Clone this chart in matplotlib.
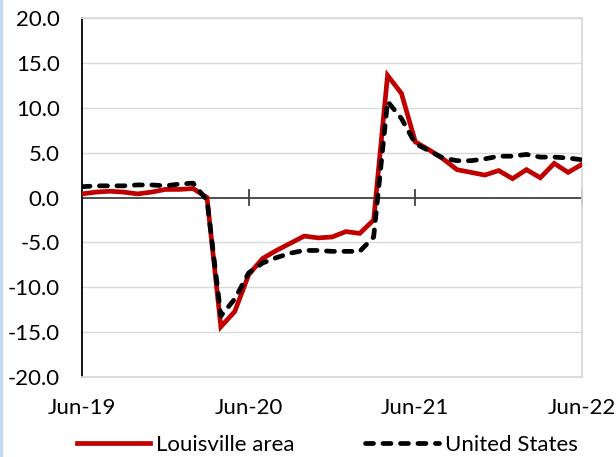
import matplotlib
matplotlib.use("Agg")
import matplotlib.pyplot as plt
from matplotlib.lines import Line2D
import numpy as np

plt.rcParams['font.family'] = ['Lato', 'DejaVu Sans']

months = list(range(37))  # Jun-19 .. Jun-22, monthly
louisville = [0.4, 0.6, 0.7, 0.6, 0.4, 0.6, 0.9, 0.9, 1.0, 0.0,
              -14.4, -12.7, -8.6, -6.8, -5.9, -5.1, -4.3, -4.5, -4.4, -3.8,
              -4.0, -2.5, 13.6, 11.6, 6.2, 5.3, 4.3, 3.1, 2.8, 2.5,
              3.0, 2.1, 3.1, 2.2, 3.8, 2.8, 3.7]
united_states = [1.2, 1.3, 1.3, 1.3, 1.4, 1.4, 1.3, 1.5, 1.6, -0.3,
                 -13.2, -11.3, -8.4, -7.3, -6.7, -6.2, -5.9, -5.9, -6.0, -6.0,
                 -6.0, -4.4, 10.7, 8.8, 6.0, 5.2, 4.4, 4.1, 4.1, 4.3,
                 4.6, 4.6, 4.8, 4.5, 4.5, 4.4, 4.2]
tick_pos = [0, 12, 24, 36]
tick_labels = ['Jun-19', 'Jun-20', 'Jun-21', 'Jun-22']
y_ticks = [-20, -15, -10, -5, 0, 5, 10, 15, 20]

FS = 16

fig = plt.figure(figsize=(6.16, 4.57), dpi=100)
ax = fig.add_axes([82/616, 1-377/457, 500/616, 359/457])

grid_c = '#d9d9d9'
for y in y_ticks:
    if y != 0:
        ax.axhline(y, color=grid_c, lw=1.0, zorder=0)

LW = 3.4
DASH = (0, (1.7, 2.0))
ax.plot(months, louisville, color='#c00000', lw=LW, solid_joinstyle='miter',
        zorder=3, label='Louisville area')
ax.plot(months, united_states, color='black', lw=LW, ls=DASH,
        dash_capstyle='round', zorder=4, label='United States')

ax.set_xlim(0, 36)
ax.set_ylim(-20, 20)

# x axis at zero
ax.axhline(0, color='#404040', lw=1.3, zorder=2)
for t in tick_pos[1:]:
    ax.plot([t, t], [-0.8, 0.8], color='#404040', lw=1.3, zorder=2, clip_on=False)

ax.set_yticks(y_ticks)
ax.set_yticklabels([f'{v:.1f}' for v in y_ticks], fontsize=FS)
ax.set_xticks(tick_pos)
ax.set_xticklabels(tick_labels, fontsize=FS)
ax.tick_params(axis='both', length=0)
ax.tick_params(axis='y', pad=16)
ax.tick_params(axis='x', pad=15)

ax.spines['left'].set_color('black')
ax.spines['left'].set_linewidth(1.3)
for s in ['top', 'right', 'bottom']:
    ax.spines[s].set_color(grid_c)
    ax.spines[s].set_linewidth(1.3)

handles = [Line2D([], [], color='#c00000', lw=LW),
           Line2D([], [], color='black', lw=LW, ls=DASH, dash_capstyle='round')]
fig.legend(handles, ['Louisville area', 'United States'], loc='center',
           bbox_to_anchor=(0.531, 0.026), ncol=2, frameon=False, fontsize=FS,
           handlelength=3.3, handletextpad=0.27, columnspacing=3.2,
           borderpad=0, borderaxespad=0)

fig.add_artist(Line2D([0.002, 0.002], [0, 1], color='#c5d9f1', lw=2.5,
                      transform=fig.transFigure))

fig.savefig('out.png', dpi=100)
